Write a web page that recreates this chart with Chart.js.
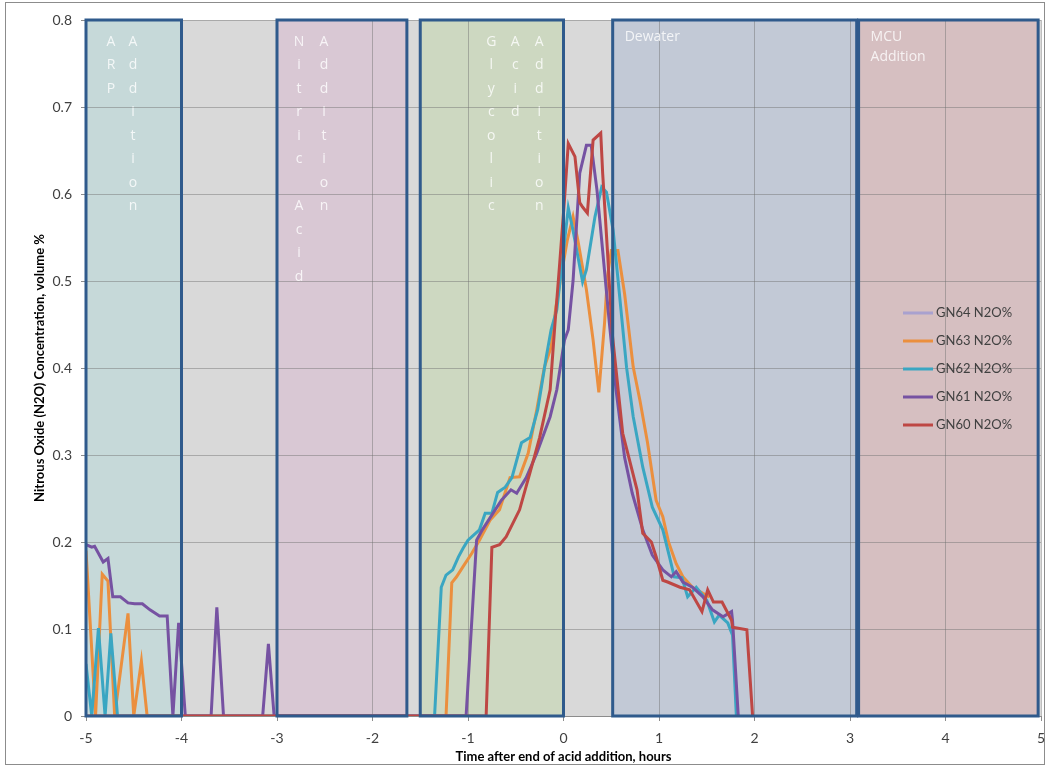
<!DOCTYPE html>
<html>
<head>
<meta charset="utf-8">
<title>N2O</title>
<script src="https://cdn.jsdelivr.net/npm/chart.js@4.4.1/dist/chart.umd.min.js"></script>
<style>
  body { margin: 0; background: #fff; }
  #chartN2O { display: block; }
</style>
</head>
<body>
<canvas id="chartN2O" width="1047" height="767"></canvas>
<script>
// tempo (h) apos fim da adicao de acido / N2O em volume %
var gn64Horas = [];
var gn64N2O = [];

var gn63Horas = [-5, -4.9, -4.83, -4.77, -4.7, -4.56, -4.5, -4.42, -4.36,
  -1.23, -1.17, -1.12, -1.05, -0.96, -0.88,
  -0.77, -0.67, -0.56, -0.46, -0.37, -0.28, -0.2, -0.13, -0.08, -0.02,
  0.04, 0.1, 0.15, 0.24, 0.31, 0.37, 0.43, 0.46, 0.5, 0.57, 0.64,
  0.73, 0.8, 0.88, 0.97, 1.04, 1.1, 1.18, 1.25, 1.35, 1.46, 1.53];
var gn63N2O = [0.19, 0, 0.163, 0.155, 0, 0.118, 0, 0.063, 0,
  0, 0.153, 0.16, 0.172, 0.187, 0.202,
  0.225, 0.237, 0.274, 0.275, 0.302, 0.352, 0.401, 0.424, 0.47, 0.509,
  0.547, 0.574, 0.547, 0.49, 0.432, 0.372, 0.452, 0.505, 0.535, 0.535, 0.485,
  0.401, 0.363, 0.314, 0.248, 0.229, 0.2, 0.175, 0.16, 0.148, 0.141, 0.137];

var gn62Horas = [-5, -4.94, -4.87, -4.8, -4.74, -4.67,
  -1.35, -1.28, -1.23, -1.16, -1.1, -1.05, -1.0,
  -0.88, -0.82, -0.75, -0.69, -0.61, -0.54, -0.44, -0.35, -0.27, -0.18, -0.13, -0.07,
  0.0, 0.05, 0.1, 0.2, 0.24, 0.33, 0.4, 0.45, 0.52, 0.59, 0.66, 0.73, 0.83, 0.93,
  1.04, 1.11, 1.16, 1.24, 1.3, 1.39, 1.5, 1.58, 1.63, 1.72, 1.77, 1.81];
var gn62N2O = [0.06, 0, 0.101, 0, 0.095, 0,
  0, 0.148, 0.162, 0.168, 0.183, 0.193, 0.202,
  0.214, 0.233, 0.233, 0.257, 0.263, 0.274, 0.314, 0.32, 0.352, 0.413, 0.444, 0.467,
  0.535, 0.584, 0.558, 0.499, 0.513, 0.574, 0.608, 0.602, 0.558, 0.48, 0.401, 0.344, 0.286, 0.24,
  0.214, 0.183, 0.16, 0.159, 0.137, 0.148, 0.133, 0.108, 0.116, 0.107, 0.093, 0];

var gn61Horas = [-5, -4.94, -4.91, -4.82, -4.77, -4.72, -4.64, -4.56, -4.49, -4.41, -4.33, -4.23, -4.15,
  -4.09, -4.03, -3.96, -3.69, -3.63, -3.56, -3.15, -3.09, -3.03,
  -1.02, -0.91, -0.85, -0.65, -0.55, -0.49, -0.39, -0.28, -0.14, -0.07,
  0.01, 0.05, 0.1, 0.17, 0.24, 0.29, 0.35, 0.41, 0.48, 0.55, 0.64, 0.72, 0.83, 0.93,
  1.04, 1.13, 1.18, 1.25, 1.35, 1.46, 1.56, 1.67, 1.76, 1.77, 1.83];
var gn61N2O = [0.197, 0.194, 0.195, 0.177, 0.181, 0.137, 0.137, 0.13, 0.129, 0.129, 0.122, 0.115, 0.115,
  0, 0.107, 0, 0, 0.125, 0, 0, 0.083, 0,
  0, 0.202, 0.214, 0.248, 0.26, 0.256, 0.274, 0.302, 0.344, 0.375,
  0.432, 0.444, 0.5, 0.624, 0.656, 0.656, 0.605, 0.535, 0.452, 0.375, 0.297, 0.256, 0.214, 0.185,
  0.168, 0.16, 0.166, 0.154, 0.148, 0.137, 0.122, 0.114, 0.12, 0.11, 0];

var gn60Horas = [-5, -0.81, -0.75, -0.67, -0.6, -0.46, -0.35, -0.25, -0.14, -0.09, -0.04,
  0.01, 0.05, 0.12, 0.17, 0.2, 0.25, 0.31, 0.39, 0.41, 0.46, 0.51, 0.62, 0.77, 0.83, 0.92, 0.97,
  1.04, 1.09, 1.22, 1.32, 1.45, 1.51, 1.57, 1.66, 1.76, 1.77, 1.92, 1.98];
var gn60N2O = [0, 0, 0.194, 0.197, 0.206, 0.237, 0.28, 0.32, 0.375, 0.45, 0.52,
  0.593, 0.658, 0.643, 0.59, 0.585, 0.578, 0.662, 0.67, 0.624, 0.535, 0.44, 0.325, 0.26, 0.21, 0.2, 0.183,
  0.156, 0.154, 0.148, 0.145, 0.12, 0.145, 0.131, 0.131, 0.11, 0.102, 0.099, 0];

var seriesNomes = ['GN64 N2O%', 'GN63 N2O%', 'GN62 N2O%', 'GN61 N2O%', 'GN60 N2O%'];
var seriesCores = ['#a9a1cf', '#eb8f3e', '#3aa6c2', '#7652a2', '#be4744'];

// etapas do processo (horas)
var fasesInicio = [-5, -3, -1.5, 0.515, 3.09];
var fasesFim = [-4.0, -1.64, 0, 3.07, 4.97];
var fasesCores = ['#c6d9d9', '#d9c8d4', '#cdd8c1', '#c2c9d6', '#d6bfc1'];
// texto vertical: uma coluna por item, uma letra por linha
var fasesColunas = [['ARP', 'Addition'], ['Nitric Acid', 'Addition'], ['Glycolic', 'Acid', 'Addition'], null, null];
// texto horizontal
var fasesLinhas = [null, null, null, ['Dewater'], ['MCU', 'Addition']];

var xTicks = [-5, -4, -3, -2, -1, 0, 1, 2, 3, 4, 5];
var yTicks = [0, 0.1, 0.2, 0.3, 0.4, 0.5, 0.6, 0.7, 0.8];

function pontos(xs, ys) {
  var lista = [];
  for (var i = 0; i < Math.min(xs.length, ys.length); i++) {
    lista.push({ x: xs[i], y: ys[i] });
  }
  return lista;
}

var colunasX = [[25, 47], [22, 47], [71, 95, 119]];

var fasesPlugin = {
  id: 'fases',
  beforeDraw: function (chart) {
    var ctx = chart.ctx, a = chart.chartArea;
    var sx = chart.scales.x, sy = chart.scales.y;
    ctx.save();
    ctx.fillStyle = '#ffffff';
    ctx.fillRect(0, 0, chart.width, chart.height);
    ctx.strokeStyle = '#8c8c8c';
    ctx.lineWidth = 1;
    ctx.strokeRect(5.5, 2.5, chart.width - 8, chart.height - 5);
    ctx.fillStyle = '#d9d9d9';
    ctx.fillRect(a.left, a.top, a.right - a.left, a.bottom - a.top);
    var yTopo = sy.getPixelForValue(0.8), yBase = sy.getPixelForValue(0);
    for (var i = 0; i < fasesInicio.length; i++) {
      var x0 = sx.getPixelForValue(fasesInicio[i]);
      var x1 = sx.getPixelForValue(fasesFim[i]);
      ctx.fillStyle = fasesCores[i];
      ctx.fillRect(x0, yTopo, x1 - x0, yBase - yTopo);
    }
    ctx.restore();
  },
  afterDatasetsDraw: function (chart) {
    var ctx = chart.ctx;
    var sx = chart.scales.x, sy = chart.scales.y;
    var yTopo = sy.getPixelForValue(0.8), yBase = sy.getPixelForValue(0);
    ctx.save();
    ctx.strokeStyle = '#2f5a8c';
    ctx.lineWidth = 3;
    for (var i = 0; i < fasesInicio.length; i++) {
      var x0 = sx.getPixelForValue(fasesInicio[i]);
      var x1 = sx.getPixelForValue(fasesFim[i]);
      ctx.strokeRect(x0, yTopo, x1 - x0, yBase - yTopo);

      ctx.fillStyle = 'rgba(255,255,255,0.8)';
      ctx.font = '14px "Open Sans"';
      ctx.textBaseline = 'middle';
      if (fasesColunas[i]) {
        ctx.textAlign = 'center';
        fasesColunas[i].forEach(function (txt, c) {
          for (var k = 0; k < txt.length; k++) {
            ctx.fillText(txt[k], x0 + colunasX[i][c], yTopo + 22 + k * 23.5);
          }
        });
      }
      if (fasesLinhas[i]) {
        ctx.textAlign = 'left';
        ctx.font = '14px "Open Sans"';
        fasesLinhas[i].forEach(function (txt, l) {
          ctx.fillText(txt, x0 + 12, yTopo + 17 + l * 20);
        });
      }
    }
    ctx.restore();
  },
  afterDraw: function (chart) {
    // legenda dentro da area do grafico
    var ctx = chart.ctx;
    ctx.save();
    ctx.font = '13px Lato';
    ctx.textBaseline = 'middle';
    ctx.textAlign = 'left';
    for (var i = 0; i < seriesNomes.length; i++) {
      var y = 313 + i * 28;
      ctx.strokeStyle = seriesCores[i];
      ctx.lineWidth = 3;
      ctx.beginPath();
      ctx.moveTo(903, y);
      ctx.lineTo(933, y);
      ctx.stroke();
      ctx.fillStyle = '#404040';
      ctx.fillText(seriesNomes[i], 936, y);
    }
    ctx.restore();
  }
};

function plotarGrafico() {
  Chart.defaults.font.family = 'Lato';
  Chart.defaults.color = '#404040';

  var series = [
    pontos(gn64Horas, gn64N2O),
    pontos(gn63Horas, gn63N2O),
    pontos(gn62Horas, gn62N2O),
    pontos(gn61Horas, gn61N2O),
    pontos(gn60Horas, gn60N2O)
  ];

  var dados = {
    datasets: series.map(function (s, i) {
      return {
        label: seriesNomes[i],
        data: s,
        borderColor: seriesCores[i],
        backgroundColor: seriesCores[i],
        borderWidth: 3,
        pointRadius: 0,
        tension: 0,
        fill: false,
        order: seriesNomes.length - i
      };
    })
  };

  const config = {
    type: 'line',
    data: dados,
    options: {
      responsive: false,
      animation: false,
      layout: { padding: { left: 0, right: 6, top: 20, bottom: 0 } },
      plugins: { legend: { display: false }, tooltip: { enabled: false } },
      scales: {
        x: {
          type: 'linear',
          min: -5,
          max: 5,
          afterBuildTicks: function (s) { s.ticks = xTicks.map(function (v) { return { value: v }; }); },
          afterFit: function (s) {
            s.height = 51;
            s.paddingLeft = 0;
            s.paddingRight = 0;
          },
          ticks: { font: { size: 14 }, padding: 9, color: '#404040' },
          grid: { color: 'rgba(110,110,110,0.45)', tickLength: 5, tickColor: '#8c8c8c' },
          border: { color: '#8c8c8c' },
          title: {
            display: true,
            text: 'Time after end of acid addition, hours',
            font: { size: 13, weight: 'bold' },
            color: '#000',
            padding: { top: 4, bottom: 2 }
          }
        },
        y: {
          min: 0,
          max: 0.8,
          afterBuildTicks: function (s) { s.ticks = yTicks.map(function (v) { return { value: v }; }); },
          afterFit: function (s) { s.width = 86; },
          ticks: {
            font: { size: 14 },
            padding: 9,
            color: '#404040',
            callback: function (v) { return String(+v.toFixed(1)); }
          },
          grid: { color: 'rgba(110,110,110,0.45)', tickLength: 5, tickColor: '#8c8c8c' },
          border: { color: '#8c8c8c' },
          title: {
            display: true,
            text: 'Nitrous Oxide (N2O) Concentration, volume %',
            font: { size: 13, weight: 'bold' },
            color: '#000',
            padding: { top: 32, bottom: 2 }
          }
        }
      }
    },
    plugins: [fasesPlugin]
  };

  let chartN2O = new Chart(document.getElementById('chartN2O'), config);
  return chartN2O;
}

plotarGrafico();
</script>
</body>
</html>
